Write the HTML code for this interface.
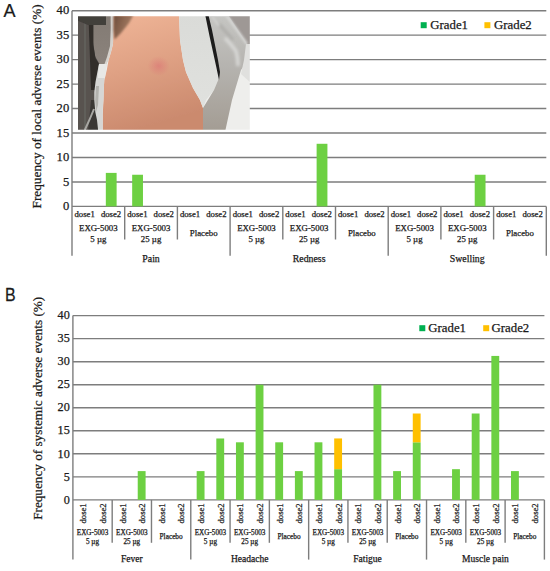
<!DOCTYPE html>
<html><head><meta charset="utf-8"><style>
html,body{margin:0;padding:0;background:#fff;}
body{width:550px;height:571px;overflow:hidden;position:relative;}
svg{position:absolute;left:0;top:0;}
svg text{font-family:"Liberation Serif", serif;fill:#1a1a1a;stroke:#1a1a1a;stroke-width:0.25px;}
</style></head><body>
<svg width="550" height="571" viewBox="0 0 550 571">
<line x1="72" y1="206.4" x2="546.3" y2="206.4" stroke="#7d7d7d" stroke-width="1.4"/>
<line x1="72" y1="181.94" x2="546.3" y2="181.94" stroke="#7d7d7d" stroke-width="1.4"/>
<line x1="72" y1="157.47" x2="546.3" y2="157.47" stroke="#7d7d7d" stroke-width="1.4"/>
<line x1="72" y1="133.01" x2="546.3" y2="133.01" stroke="#7d7d7d" stroke-width="1.4"/>
<line x1="72" y1="108.55" x2="546.3" y2="108.55" stroke="#7d7d7d" stroke-width="1.4"/>
<line x1="72" y1="84.09" x2="546.3" y2="84.09" stroke="#7d7d7d" stroke-width="1.4"/>
<line x1="72" y1="59.62" x2="546.3" y2="59.62" stroke="#7d7d7d" stroke-width="1.4"/>
<line x1="72" y1="35.16" x2="546.3" y2="35.16" stroke="#7d7d7d" stroke-width="1.4"/>
<line x1="72" y1="10.7" x2="546.3" y2="10.7" stroke="#7d7d7d" stroke-width="1.4"/>
<text x="69.2" y="210.1" font-size="12.6" text-anchor="end">0</text>
<text x="69.2" y="185.64" font-size="12.6" text-anchor="end">5</text>
<text x="69.2" y="161.17" font-size="12.6" text-anchor="end">10</text>
<text x="69.2" y="136.71" font-size="12.6" text-anchor="end">15</text>
<text x="69.2" y="112.25" font-size="12.6" text-anchor="end">20</text>
<text x="69.2" y="87.79" font-size="12.6" text-anchor="end">25</text>
<text x="69.2" y="63.32" font-size="12.6" text-anchor="end">30</text>
<text x="69.2" y="38.86" font-size="12.6" text-anchor="end">35</text>
<text x="69.2" y="14.4" font-size="12.6" text-anchor="end">40</text>
<rect x="105.82" y="172.89" width="10.8" height="33.51" fill="#6dd042"/>
<rect x="132.17" y="174.75" width="10.8" height="31.65" fill="#6dd042"/>
<rect x="316.62" y="143.78" width="10.8" height="62.62" fill="#6dd042"/>
<rect x="474.72" y="174.75" width="10.8" height="31.65" fill="#6dd042"/>
<line x1="72" y1="10.7" x2="72" y2="255.7" stroke="#7d7d7d" stroke-width="1.4"/>
<line x1="124.7" y1="206.4" x2="124.7" y2="239.5" stroke="#7d7d7d" stroke-width="1.4"/>
<line x1="177.4" y1="206.4" x2="177.4" y2="239.5" stroke="#7d7d7d" stroke-width="1.4"/>
<line x1="230.1" y1="206.4" x2="230.1" y2="255.7" stroke="#7d7d7d" stroke-width="1.4"/>
<line x1="282.8" y1="206.4" x2="282.8" y2="239.5" stroke="#7d7d7d" stroke-width="1.4"/>
<line x1="335.5" y1="206.4" x2="335.5" y2="239.5" stroke="#7d7d7d" stroke-width="1.4"/>
<line x1="388.2" y1="206.4" x2="388.2" y2="255.7" stroke="#7d7d7d" stroke-width="1.4"/>
<line x1="440.9" y1="206.4" x2="440.9" y2="239.5" stroke="#7d7d7d" stroke-width="1.4"/>
<line x1="493.6" y1="206.4" x2="493.6" y2="239.5" stroke="#7d7d7d" stroke-width="1.4"/>
<line x1="546.3" y1="206.4" x2="546.3" y2="255.7" stroke="#7d7d7d" stroke-width="1.4"/>
<text x="84.67" y="216.5" font-size="8.7" text-anchor="middle">dose1</text>
<text x="111.03" y="216.5" font-size="8.7" text-anchor="middle">dose2</text>
<text x="137.38" y="216.5" font-size="8.7" text-anchor="middle">dose1</text>
<text x="163.72" y="216.5" font-size="8.7" text-anchor="middle">dose2</text>
<text x="190.07" y="216.5" font-size="8.7" text-anchor="middle">dose1</text>
<text x="216.42" y="216.5" font-size="8.7" text-anchor="middle">dose2</text>
<text x="242.77" y="216.5" font-size="8.7" text-anchor="middle">dose1</text>
<text x="269.12" y="216.5" font-size="8.7" text-anchor="middle">dose2</text>
<text x="295.48" y="216.5" font-size="8.7" text-anchor="middle">dose1</text>
<text x="321.82" y="216.5" font-size="8.7" text-anchor="middle">dose2</text>
<text x="348.17" y="216.5" font-size="8.7" text-anchor="middle">dose1</text>
<text x="374.52" y="216.5" font-size="8.7" text-anchor="middle">dose2</text>
<text x="400.88" y="216.5" font-size="8.7" text-anchor="middle">dose1</text>
<text x="427.22" y="216.5" font-size="8.7" text-anchor="middle">dose2</text>
<text x="453.57" y="216.5" font-size="8.7" text-anchor="middle">dose1</text>
<text x="479.92" y="216.5" font-size="8.7" text-anchor="middle">dose2</text>
<text x="506.27" y="216.5" font-size="8.7" text-anchor="middle">dose1</text>
<text x="532.62" y="216.5" font-size="8.7" text-anchor="middle">dose2</text>
<text x="98.35" y="231" font-size="8.8" text-anchor="middle">EXG-5003</text>
<text x="98.35" y="241.5" font-size="8.8" text-anchor="middle">5 µg</text>
<text x="151.05" y="231" font-size="8.8" text-anchor="middle">EXG-5003</text>
<text x="151.05" y="241.5" font-size="8.8" text-anchor="middle">25 µg</text>
<text x="203.75" y="236.3" font-size="8.8" text-anchor="middle">Placebo</text>
<text x="256.45" y="231" font-size="8.8" text-anchor="middle">EXG-5003</text>
<text x="256.45" y="241.5" font-size="8.8" text-anchor="middle">5 µg</text>
<text x="309.15" y="231" font-size="8.8" text-anchor="middle">EXG-5003</text>
<text x="309.15" y="241.5" font-size="8.8" text-anchor="middle">25 µg</text>
<text x="361.85" y="236.3" font-size="8.8" text-anchor="middle">Placebo</text>
<text x="414.55" y="231" font-size="8.8" text-anchor="middle">EXG-5003</text>
<text x="414.55" y="241.5" font-size="8.8" text-anchor="middle">5 µg</text>
<text x="467.25" y="231" font-size="8.8" text-anchor="middle">EXG-5003</text>
<text x="467.25" y="241.5" font-size="8.8" text-anchor="middle">25 µg</text>
<text x="519.95" y="236.3" font-size="8.8" text-anchor="middle">Placebo</text>
<text x="151.05" y="261.7" font-size="9.8" text-anchor="middle">Pain</text>
<text x="309.15" y="261.7" font-size="9.8" text-anchor="middle">Redness</text>
<text x="467.25" y="261.7" font-size="9.8" text-anchor="middle">Swelling</text>
<text transform="translate(41,208.5) rotate(-90)" font-size="13.3">Frequency of local adverse events (%)</text>
<rect x="420.7" y="22.2" width="6" height="6" fill="#00b050"/>
<text x="430.3" y="28.9" font-size="12.8">Grade1</text>
<rect x="484.4" y="22.2" width="6" height="6" fill="#ffc000"/>
<text x="494.1" y="28.9" font-size="12.8">Grade2</text>
<text transform="translate(3.4,17.0) scale(0.97,1)" style="font-family:'Liberation Sans', sans-serif" font-size="18.6">A</text>
<defs>
<clipPath id="pc"><rect x="78" y="16.3" width="171.8" height="113.5"/></clipPath>
<filter id="bl" x="-5%" y="-5%" width="110%" height="110%"><feGaussianBlur stdDeviation="0.7"/></filter>
<filter id="bl2" x="-50%" y="-50%" width="200%" height="200%"><feGaussianBlur stdDeviation="1.3"/></filter>
<filter id="bl3" x="-50%" y="-50%" width="200%" height="200%"><feGaussianBlur stdDeviation="1.8"/></filter>
<linearGradient id="skin" x1="0" y1="0" x2="0.25" y2="1">
<stop offset="0" stop-color="#f0b698"/><stop offset="0.5" stop-color="#dfa184"/><stop offset="1" stop-color="#cb8a6e"/>
</linearGradient>
<linearGradient id="fold" x1="0" y1="0" x2="0" y2="1">
<stop offset="0" stop-color="#c6c6c3"/><stop offset="0.45" stop-color="#b5b3af"/><stop offset="1" stop-color="#a39c93"/>
</linearGradient>
<linearGradient id="lshirt" x1="0" y1="0" x2="0" y2="1">
<stop offset="0" stop-color="#dadbd8"/><stop offset="1" stop-color="#e0e1de"/>
</linearGradient>
<linearGradient id="gband" x1="0" y1="0" x2="0" y2="1">
<stop offset="0" stop-color="#827a73"/><stop offset="1" stop-color="#8b837c"/>
</linearGradient>
<linearGradient id="brown" x1="0" y1="0" x2="1" y2="0.4">
<stop offset="0" stop-color="#6a4b3a"/><stop offset="0.5" stop-color="#8c6751"/><stop offset="1" stop-color="#a87f66"/>
</linearGradient>
<radialGradient id="spot"><stop offset="0" stop-color="#dc6a72" stop-opacity="0.5"/><stop offset="0.55" stop-color="#dc6a72" stop-opacity="0.22"/><stop offset="1" stop-color="#dc6a72" stop-opacity="0"/></radialGradient>
</defs>
<g clip-path="url(#pc)">
<g filter="url(#bl)">
<rect x="76" y="14" width="176" height="118" fill="#eeeeec"/>
<!-- left dark base -->
<rect x="76" y="14" width="24" height="118" fill="#595350"/>
<rect x="84" y="14" width="2" height="118" fill="#605e5a"/>
<!-- medium gray band -->
<path d="M93.3,14 L111,14 L110.8,45 L108.5,58 L106,64 L99.5,64 L95,56 L93.3,42 Z" fill="url(#gband)"/>
<!-- dark shadow strips -->
<path d="M88.4,14 L93.3,14 L93.3,45 L95.5,58 L99,64 L97.4,75 L96,90 L91,90 L90,60 Z" fill="#302e2b"/>
<path d="M91,100 L97,100 L98.5,132 L88,132 Z" fill="#3a3835"/>
<path d="M76,14 L106,14 L106,25 L88,25 L76,20 Z" fill="#423f3b"/>
<!-- skin -->
<path d="M113.2,14 L179,14 L180,40 L183,60 L186,72 L193,88 L200,100 L203,108 L204,132 L102.7,132 L102.7,115 L103.5,100 L103.7,90 L104.3,80 L106.8,70 L108.6,60 L111,52 L113,44 L113.4,30 Z" fill="url(#skin)"/>
<!-- light strip (upper narrow) -->
<path d="M110.6,14 L113.6,14 L113.4,30 L113,44 L111,52 L108.6,60 L106.5,64 L104.5,64 L107,57 L110,46 L110.8,30 Z" fill="#d6d2cd"/>
<!-- light strip (lower wide) -->
<path d="M99,64 L106.8,64 L104.6,74 L104,85 L103.7,95 L103,105 L102.7,115 L102.7,132 L98.3,132 L97,120 L95.3,112 L94.3,100 L94.3,92 L95.5,82 L97.4,72 Z" fill="#d6d6d4"/>
<path d="M99,64 L106.8,64 L105,78 L97.8,78 Z" fill="#e8e8e6"/>
<path d="M96,86 L99,86 L98,105 L96,112 L95.2,100 Z" fill="#b3b2ae"/>
<path d="M94,109 Q90,119 84.8,130" stroke="#a8a7a3" stroke-width="2" fill="none"/>
<!-- light shirt -->
<path d="M179,14 L206,14 L219,78 L214,90 L206,100 L203,108 L200,100 L193,88 L186,72 L183,60 L180,40 Z" fill="url(#lshirt)"/>
<!-- medium gray fold region -->
<path d="M207,14 L252,14 L252,55 L241,70 L232,100 L225,132 L203,132 L203,108 L214,90 L219,78 Z" fill="url(#fold)"/>
<path d="M227.5,14 L252,14 L252,45 L247.5,44.5 Z" fill="#9e9895"/>
<path d="M246,44 L252,44 L252,84 L241,74 L244,60 Z" fill="#e0e0de"/>
<!-- dark line -->
<path d="M205,14 L208.2,14 L212,30 L215,45 L218,60 L220,72 L219,80 L216.5,68 L213,52 L209.5,36 Z" fill="#1c1c1c"/>
</g>
<path d="M225.5,14 L247,44" stroke="#d6d6d4" stroke-width="2.5" fill="none" filter="url(#bl2)"/>
<path d="M219,24 L233,40" stroke="#aeadaa" stroke-width="3" fill="none" filter="url(#bl3)"/>
<path d="M212,16 Q216,22 219,26" stroke="#d2d2d0" stroke-width="2" fill="none" filter="url(#bl2)"/>
<path d="M225,38 Q231,44 236,51 Q238,58 238,66" stroke="#d8d8d6" stroke-width="3.5" fill="none" filter="url(#bl3)"/>
<!-- brown shadow wedge -->
<path d="M113.6,14 L134,14 L129,23 L121,33 L114.5,39.5 L113.4,30 Z" fill="url(#brown)" filter="url(#bl2)"/>
<!-- red spot -->
<ellipse cx="158.6" cy="66" rx="11" ry="10" fill="url(#spot)"/>
</g>

<line x1="72.9" y1="499.9" x2="544.4" y2="499.9" stroke="#7d7d7d" stroke-width="1.4"/>
<line x1="72.9" y1="476.86" x2="544.4" y2="476.86" stroke="#7d7d7d" stroke-width="1.4"/>
<line x1="72.9" y1="453.82" x2="544.4" y2="453.82" stroke="#7d7d7d" stroke-width="1.4"/>
<line x1="72.9" y1="430.79" x2="544.4" y2="430.79" stroke="#7d7d7d" stroke-width="1.4"/>
<line x1="72.9" y1="407.75" x2="544.4" y2="407.75" stroke="#7d7d7d" stroke-width="1.4"/>
<line x1="72.9" y1="384.71" x2="544.4" y2="384.71" stroke="#7d7d7d" stroke-width="1.4"/>
<line x1="72.9" y1="361.68" x2="544.4" y2="361.68" stroke="#7d7d7d" stroke-width="1.4"/>
<line x1="72.9" y1="338.64" x2="544.4" y2="338.64" stroke="#7d7d7d" stroke-width="1.4"/>
<line x1="72.9" y1="315.6" x2="544.4" y2="315.6" stroke="#7d7d7d" stroke-width="1.4"/>
<text x="69.8" y="503.6" font-size="12.2" text-anchor="end">0</text>
<text x="69.8" y="480.56" font-size="12.2" text-anchor="end">5</text>
<text x="69.8" y="457.52" font-size="12.2" text-anchor="end">10</text>
<text x="69.8" y="434.49" font-size="12.2" text-anchor="end">15</text>
<text x="69.8" y="411.45" font-size="12.2" text-anchor="end">20</text>
<text x="69.8" y="388.41" font-size="12.2" text-anchor="end">25</text>
<text x="69.8" y="365.38" font-size="12.2" text-anchor="end">30</text>
<text x="69.8" y="342.34" font-size="12.2" text-anchor="end">35</text>
<text x="69.8" y="319.3" font-size="12.2" text-anchor="end">40</text>
<rect x="137.73" y="471.1" width="7.86" height="28.8" fill="#6dd042"/>
<rect x="196.67" y="471.1" width="7.86" height="28.8" fill="#6dd042"/>
<rect x="216.31" y="438.48" width="7.86" height="61.42" fill="#6dd042"/>
<rect x="235.96" y="442.31" width="7.86" height="57.59" fill="#6dd042"/>
<rect x="255.61" y="384.71" width="7.86" height="115.19" fill="#6dd042"/>
<rect x="275.25" y="442.31" width="7.86" height="57.59" fill="#6dd042"/>
<rect x="294.9" y="471.1" width="7.86" height="28.8" fill="#6dd042"/>
<rect x="314.54" y="442.31" width="7.86" height="57.59" fill="#6dd042"/>
<rect x="334.19" y="469.17" width="7.86" height="30.73" fill="#6dd042"/>
<rect x="334.19" y="438.44" width="7.86" height="30.73" fill="#ffc000"/>
<rect x="373.48" y="384.71" width="7.86" height="115.19" fill="#6dd042"/>
<rect x="393.13" y="471.1" width="7.86" height="28.8" fill="#6dd042"/>
<rect x="412.77" y="442.31" width="7.86" height="57.59" fill="#6dd042"/>
<rect x="412.77" y="413.51" width="7.86" height="28.8" fill="#ffc000"/>
<rect x="452.06" y="469.17" width="7.86" height="30.73" fill="#6dd042"/>
<rect x="471.71" y="413.51" width="7.86" height="86.39" fill="#6dd042"/>
<rect x="491.36" y="355.92" width="7.86" height="143.98" fill="#6dd042"/>
<rect x="511" y="471.1" width="7.86" height="28.8" fill="#6dd042"/>
<line x1="72.9" y1="315.6" x2="72.9" y2="559.6" stroke="#7d7d7d" stroke-width="1.4"/>
<line x1="112.19" y1="499.9" x2="112.19" y2="542.8" stroke="#7d7d7d" stroke-width="1.4"/>
<line x1="151.48" y1="499.9" x2="151.48" y2="542.8" stroke="#7d7d7d" stroke-width="1.4"/>
<line x1="190.78" y1="499.9" x2="190.78" y2="559.6" stroke="#7d7d7d" stroke-width="1.4"/>
<line x1="230.07" y1="499.9" x2="230.07" y2="542.8" stroke="#7d7d7d" stroke-width="1.4"/>
<line x1="269.36" y1="499.9" x2="269.36" y2="542.8" stroke="#7d7d7d" stroke-width="1.4"/>
<line x1="308.65" y1="499.9" x2="308.65" y2="559.6" stroke="#7d7d7d" stroke-width="1.4"/>
<line x1="347.94" y1="499.9" x2="347.94" y2="542.8" stroke="#7d7d7d" stroke-width="1.4"/>
<line x1="387.23" y1="499.9" x2="387.23" y2="542.8" stroke="#7d7d7d" stroke-width="1.4"/>
<line x1="426.52" y1="499.9" x2="426.52" y2="559.6" stroke="#7d7d7d" stroke-width="1.4"/>
<line x1="465.82" y1="499.9" x2="465.82" y2="542.8" stroke="#7d7d7d" stroke-width="1.4"/>
<line x1="505.11" y1="499.9" x2="505.11" y2="542.8" stroke="#7d7d7d" stroke-width="1.4"/>
<line x1="544.4" y1="499.9" x2="544.4" y2="559.6" stroke="#7d7d7d" stroke-width="1.4"/>
<text transform="translate(86.22,503.4) rotate(-90)" font-size="8.6" text-anchor="end">dose1</text>
<text transform="translate(105.87,503.4) rotate(-90)" font-size="8.6" text-anchor="end">dose2</text>
<text transform="translate(125.51,503.4) rotate(-90)" font-size="8.6" text-anchor="end">dose1</text>
<text transform="translate(145.16,503.4) rotate(-90)" font-size="8.6" text-anchor="end">dose2</text>
<text transform="translate(164.81,503.4) rotate(-90)" font-size="8.6" text-anchor="end">dose1</text>
<text transform="translate(184.45,503.4) rotate(-90)" font-size="8.6" text-anchor="end">dose2</text>
<text transform="translate(204.1,503.4) rotate(-90)" font-size="8.6" text-anchor="end">dose1</text>
<text transform="translate(223.74,503.4) rotate(-90)" font-size="8.6" text-anchor="end">dose2</text>
<text transform="translate(243.39,503.4) rotate(-90)" font-size="8.6" text-anchor="end">dose1</text>
<text transform="translate(263.04,503.4) rotate(-90)" font-size="8.6" text-anchor="end">dose2</text>
<text transform="translate(282.68,503.4) rotate(-90)" font-size="8.6" text-anchor="end">dose1</text>
<text transform="translate(302.33,503.4) rotate(-90)" font-size="8.6" text-anchor="end">dose2</text>
<text transform="translate(321.97,503.4) rotate(-90)" font-size="8.6" text-anchor="end">dose1</text>
<text transform="translate(341.62,503.4) rotate(-90)" font-size="8.6" text-anchor="end">dose2</text>
<text transform="translate(361.26,503.4) rotate(-90)" font-size="8.6" text-anchor="end">dose1</text>
<text transform="translate(380.91,503.4) rotate(-90)" font-size="8.6" text-anchor="end">dose2</text>
<text transform="translate(400.56,503.4) rotate(-90)" font-size="8.6" text-anchor="end">dose1</text>
<text transform="translate(420.2,503.4) rotate(-90)" font-size="8.6" text-anchor="end">dose2</text>
<text transform="translate(439.85,503.4) rotate(-90)" font-size="8.6" text-anchor="end">dose1</text>
<text transform="translate(459.49,503.4) rotate(-90)" font-size="8.6" text-anchor="end">dose2</text>
<text transform="translate(479.14,503.4) rotate(-90)" font-size="8.6" text-anchor="end">dose1</text>
<text transform="translate(498.79,503.4) rotate(-90)" font-size="8.6" text-anchor="end">dose2</text>
<text transform="translate(518.43,503.4) rotate(-90)" font-size="8.6" text-anchor="end">dose1</text>
<text transform="translate(538.08,503.4) rotate(-90)" font-size="8.6" text-anchor="end">dose2</text>
<text x="92.55" y="535.4" font-size="7.2" text-anchor="middle">EXG-5003</text>
<text x="92.55" y="543.9" font-size="7.2" text-anchor="middle">5 µg</text>
<text x="131.84" y="535.4" font-size="7.2" text-anchor="middle">EXG-5003</text>
<text x="131.84" y="543.9" font-size="7.2" text-anchor="middle">25 µg</text>
<text x="171.13" y="539.4" font-size="7.3" text-anchor="middle">Placebo</text>
<text x="210.42" y="535.4" font-size="7.2" text-anchor="middle">EXG-5003</text>
<text x="210.42" y="543.9" font-size="7.2" text-anchor="middle">5 µg</text>
<text x="249.71" y="535.4" font-size="7.2" text-anchor="middle">EXG-5003</text>
<text x="249.71" y="543.9" font-size="7.2" text-anchor="middle">25 µg</text>
<text x="289" y="539.4" font-size="7.3" text-anchor="middle">Placebo</text>
<text x="328.3" y="535.4" font-size="7.2" text-anchor="middle">EXG-5003</text>
<text x="328.3" y="543.9" font-size="7.2" text-anchor="middle">5 µg</text>
<text x="367.59" y="535.4" font-size="7.2" text-anchor="middle">EXG-5003</text>
<text x="367.59" y="543.9" font-size="7.2" text-anchor="middle">25 µg</text>
<text x="406.88" y="539.4" font-size="7.3" text-anchor="middle">Placebo</text>
<text x="446.17" y="535.4" font-size="7.2" text-anchor="middle">EXG-5003</text>
<text x="446.17" y="543.9" font-size="7.2" text-anchor="middle">5 µg</text>
<text x="485.46" y="535.4" font-size="7.2" text-anchor="middle">EXG-5003</text>
<text x="485.46" y="543.9" font-size="7.2" text-anchor="middle">25 µg</text>
<text x="524.75" y="539.4" font-size="7.3" text-anchor="middle">Placebo</text>
<text x="131.84" y="561.6" font-size="9.5" text-anchor="middle">Fever</text>
<text x="249.71" y="561.6" font-size="9.5" text-anchor="middle">Headache</text>
<text x="367.59" y="561.6" font-size="9.5" text-anchor="middle">Fatigue</text>
<text x="485.46" y="561.6" font-size="9.5" text-anchor="middle">Muscle pain</text>
<text transform="translate(41.8,519.8) rotate(-90)" font-size="13.2">Frequency of systemic adverse events (%)</text>
<rect x="419.3" y="325.2" width="6" height="6" fill="#00b050"/>
<text x="428.3" y="331.6" font-size="12.8">Grade1</text>
<rect x="483.2" y="325.2" width="6" height="6" fill="#ffc000"/>
<text x="491.6" y="331.6" font-size="12.8">Grade2</text>
<text transform="translate(4.9,300.8) scale(0.86,1)" style="font-family:'Liberation Sans', sans-serif" font-size="18.6">B</text>
</svg>
</body></html>
